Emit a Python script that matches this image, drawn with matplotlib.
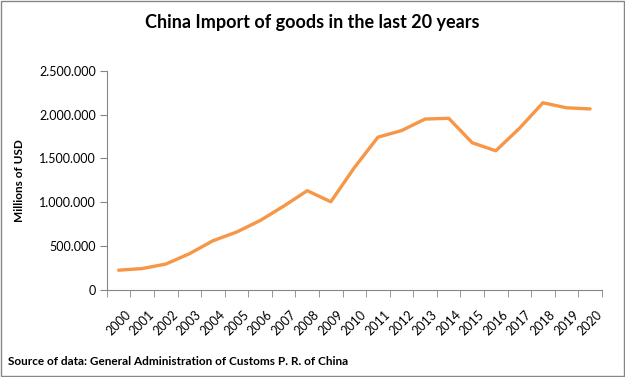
import numpy as np
import matplotlib.pyplot as plt
from matplotlib.ticker import FuncFormatter

# China imports, millions of USD
years = [str(y) for y in range(2000, 2021)]
imports = [225094, 243553, 295170, 412760, 561229, 659953, 791461, 956116,
           1132562, 1005923, 1396247, 1743484, 1818405, 1949989, 1959235,
           1679564, 1587921, 1843793, 2135748, 2078386, 2065964]

plt.rcParams['font.family'] = ['Lato', 'DejaVu Sans']

fig = plt.figure(figsize=(6.25, 3.77), dpi=100)
ax = fig.add_axes([0.171, 0.231, 0.792, 0.581])

x = np.arange(len(years))
ax.plot(x, imports, color='#F79646', linewidth=2.4, solid_capstyle='round')

ax.set_xlim(-0.5, len(years) - 0.5)
ax.set_ylim(0, 2500000)
ax.set_yticks(np.arange(0, 2500001, 500000))
ax.yaxis.set_major_formatter(FuncFormatter(lambda v, p: f'{int(v):,}'.replace(',', '.')))

# year labels sit a little right of the centre, like the reference
ax.set_xticks(x + 0.25)
ax.set_xticklabels(years, rotation=45, ha='right', rotation_mode='anchor', fontsize=9)
ax.set_xticks(np.arange(-0.5, len(years)), minor=True)
ax.tick_params(axis='x', which='major', length=0, pad=13)
ax.tick_params(axis='x', which='minor', length=5, color='#868686')
ax.tick_params(axis='y', length=5, color='#868686', labelsize=9, pad=3)

for s in ['top', 'right']:
    ax.spines[s].set_visible(False)
for s in ['left', 'bottom']:
    ax.spines[s].set_color('#868686')

ax.set_ylabel('Millions of USD', fontsize=8.5, fontweight='bold', labelpad=10)
fig.text(0.5, 0.94, 'China Import of goods in the last 20 years', ha='center', va='center',
         fontsize=13, fontweight='bold')
fig.text(0.013, 0.04, 'Source of data: General Administration of Customs P. R. of China',
         ha='left', va='center', fontsize=8.5, fontweight='bold')

fig.patches.append(plt.Rectangle((0.001, 0.002), 0.997, 0.995, transform=fig.transFigure,
                                 fill=False, edgecolor='#868686', linewidth=1))

fig.savefig('out.png', dpi=100)
